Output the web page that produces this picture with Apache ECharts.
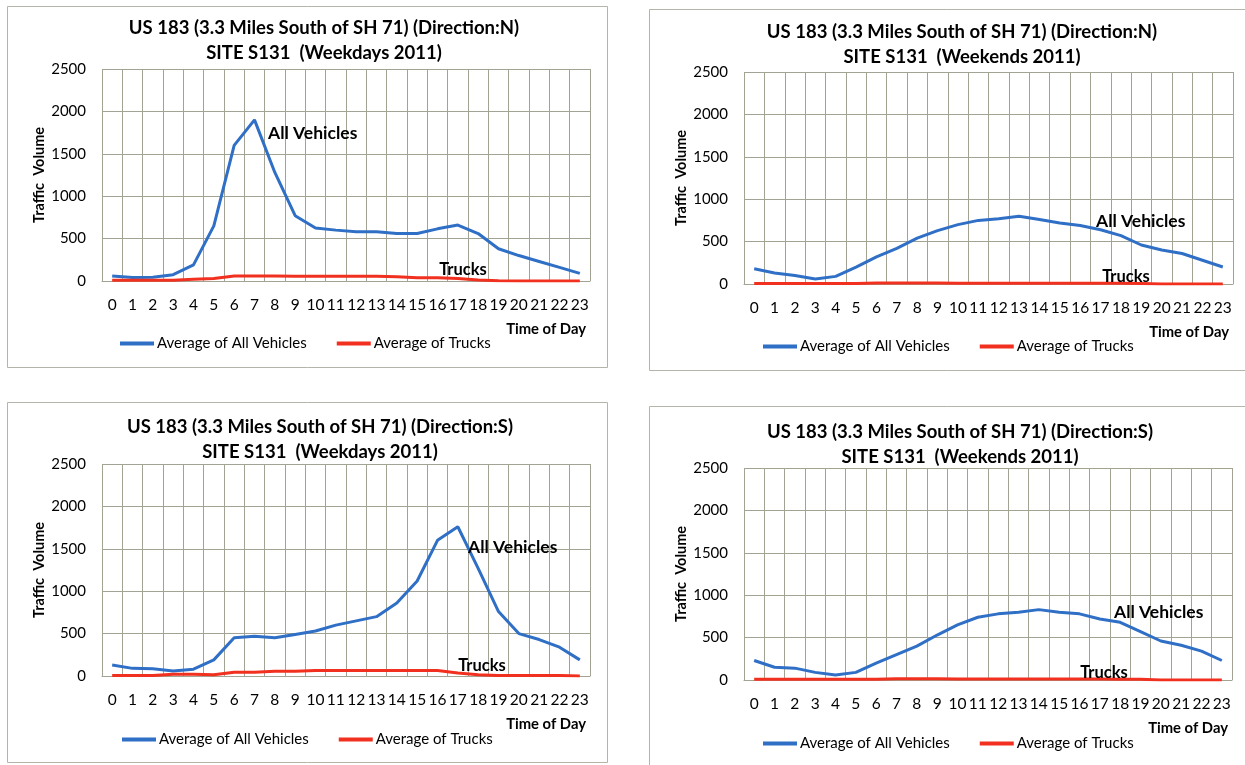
<!DOCTYPE html>
<html>
<head>
<meta charset="utf-8">
<script src="https://cdn.jsdelivr.net/npm/echarts@6/dist/echarts.min.js"></script>
<style>html,body{margin:0;padding:0;background:#fff;}#c{width:1245px;height:765px;}</style>
</head>
<body>
<div id="c"></div>
<script>
// ---- data ----
const hours = ['0','1','2','3','4','5','6','7','8','9','10','11','12','13','14','15','16','17','18','19','20','21','22','23'];
const yTicks = [0, 500, 1000, 1500, 2000, 2500];
const seriesNames = ['Average of All Vehicles', 'Average of Trucks'];

const titlesLine1 = [
  'US 183 (3.3 Miles South of SH 71) (Direction:N)',
  'US 183 (3.3 Miles South of SH 71) (Direction:N)',
  'US 183 (3.3 Miles South of SH 71) (Direction:S)',
  'US 183 (3.3 Miles South of SH 71) (Direction:S)'
];
const titlesLine2 = [
  'SITE S131  (Weekdays 2011)',
  'SITE S131  (Weekends 2011)',
  'SITE S131  (Weekdays 2011)',
  'SITE S131  (Weekends 2011)'
];

const nWeekdayAll    = [60,40,45,75,190,650,1600,1900,1280,770,625,600,580,580,560,560,615,660,560,380,300,230,160,90];
const nWeekdayTrucks = [10,10,10,10,20,30,58,58,58,55,55,55,55,55,50,38,38,30,12,2,0,0,0,0];
const nWeekendAll    = [180,130,100,60,90,200,320,420,540,630,700,750,770,800,760,720,690,640,570,460,400,360,280,200];
const nWeekendTrucks = [5,5,5,5,5,5,12,12,12,12,10,10,10,10,8,8,8,8,8,5,0,0,0,0];
const sWeekdayAll    = [130,90,85,60,80,190,450,470,450,490,530,600,650,700,860,1120,1600,1760,1270,760,500,430,340,190];
const sWeekdayTrucks = [5,5,5,20,20,15,45,45,55,55,65,65,65,65,65,65,65,35,15,5,5,5,5,0];
const sWeekendAll    = [230,150,140,90,60,90,200,300,400,530,650,740,780,800,830,800,780,720,680,570,460,410,340,230];
const sWeekendTrucks = [8,8,8,8,8,8,8,15,15,15,12,12,12,12,12,12,12,12,10,8,0,0,0,0];

const allData = [nWeekdayAll, nWeekendAll, sWeekdayAll, sWeekendAll];
const truckData = [nWeekdayTrucks, nWeekendTrucks, sWeekdayTrucks, sWeekendTrucks];
const annoAll = 'All Vehicles';
const annoTrucks = 'Trucks';

// ---- layout (pixels) ----
const layout = [
  { grid:[102,69,488,212],  title:[324,15.5],  legend:[120,336], border:[7,6,600,361],   allLbl:[268,133], trkLbl:[463,270] },
  { grid:[744,72,489,212],  title:[962,19.5],  legend:[763,339], border:[649,9,640,361], allLbl:[1096,221], trkLbl:[1126,277] },
  { grid:[102,464,488,212], title:[320,414.5], legend:[122,732], border:[7,402,600,360], allLbl:[468,547], trkLbl:[482,666] },
  { grid:[744,468,488,212], title:[960,419.5], legend:[763,736], border:[649,406,640,360], allLbl:[1114,612], trkLbl:[1104,673] }
];

const FONT = 'Lato, "Open Sans", sans-serif';
const BLUE = '#2f6fc6';
const RED = '#f2301f';
const GRIDC = '#a3a393';

const option = {
  backgroundColor: '#ffffff',
  animation: false,
  title: [], grid: [], xAxis: [], yAxis: [], legend: [], series: [], graphic: []
};

layout.forEach((L, i) => {
  option.title.push({
    text: titlesLine1[i] + '\n' + titlesLine2[i],
    left: L.title[0], top: L.title[1], textAlign: 'center', padding: 0,
    textStyle: { fontFamily: FONT, fontWeight: 'bold', fontSize: 18.5, lineHeight: 25, color: '#000' }
  });
  option.grid.push({ left: L.grid[0], top: L.grid[1], width: L.grid[2], height: L.grid[3], containLabel: false });
  option.xAxis.push({
    type: 'category', gridIndex: i, data: hours, boundaryGap: true,
    axisLine: { show: true, lineStyle: { color: GRIDC, width: 1 } },
    axisTick: { show: false },
    axisLabel: { interval: 0, margin: 16, fontFamily: FONT, fontSize: 15.5, color: '#000' },
    splitLine: { show: true, interval: 0, lineStyle: { color: GRIDC, width: 1 } },
    name: 'Time of Day', nameLocation: 'end', nameGap: -4,
    nameTextStyle: { fontFamily: FONT, fontWeight: 'bold', fontSize: 14.8, color: '#000', align: 'right', verticalAlign: 'top', padding: [41, 0, 0, 0] }
  });
  option.yAxis.push({
    type: 'value', gridIndex: i, min: yTicks[0], max: yTicks[yTicks.length - 1], interval: yTicks[1] - yTicks[0],
    axisLine: { show: false }, axisTick: { show: false },
    axisLabel: { margin: 16, fontFamily: FONT, fontSize: 15, color: '#000', formatter: v => String(v) },
    splitLine: { show: true, lineStyle: { color: GRIDC, width: 1 } },
    name: 'Traffic  Volume', nameLocation: 'middle', nameGap: 55, nameRotate: 90,
    nameTextStyle: { fontFamily: FONT, fontWeight: 'bold', fontSize: 14.5, color: '#000' }
  });
  option.legend.push({
    left: L.legend[0], top: L.legend[1], padding: 0, itemGap: 30, itemWidth: 34, itemHeight: 4, icon: 'rect',
    data: seriesNames.map(n => ({ name: n })),
    textStyle: { fontFamily: FONT, fontSize: 15, color: '#000', padding: [0, 0, 0, -2] },
    selectedMode: false
  });
  option.series.push({
    name: seriesNames[0], type: 'line', xAxisIndex: i, yAxisIndex: i, data: allData[i],
    showSymbol: false, symbol: 'none', lineStyle: { color: BLUE, width: 3 }, itemStyle: { color: BLUE }, z: 3
  });
  option.series.push({
    name: seriesNames[1], type: 'line', xAxisIndex: i, yAxisIndex: i, data: truckData[i],
    showSymbol: false, symbol: 'none', lineStyle: { color: RED, width: 3 }, itemStyle: { color: RED }, z: 4
  });
  option.graphic.push({
    type: 'rect', silent: true, z: -10,
    shape: { x: L.border[0] + 0.5, y: L.border[1] + 0.5, width: L.border[2], height: L.border[3] },
    style: { fill: null, stroke: '#b4b4aa', lineWidth: 1 }
  });
  option.graphic.push({
    type: 'text', silent: true, z: 10, x: L.allLbl[0], y: L.allLbl[1],
    style: { text: annoAll, fontFamily: FONT, fontWeight: 'bold', fontSize: 17.5, fill: '#000', align: 'left', verticalAlign: 'middle' }
  });
  option.graphic.push({
    type: 'text', silent: true, z: 10, x: L.trkLbl[0], y: L.trkLbl[1],
    style: { text: annoTrucks, fontFamily: FONT, fontWeight: 'bold', fontSize: 16.5, fill: '#000', align: 'center', verticalAlign: 'middle' }
  });
});

const chart = echarts.init(document.getElementById('c'), null, { renderer: 'canvas' });
chart.setOption(option);
</script>
</body>
</html>
